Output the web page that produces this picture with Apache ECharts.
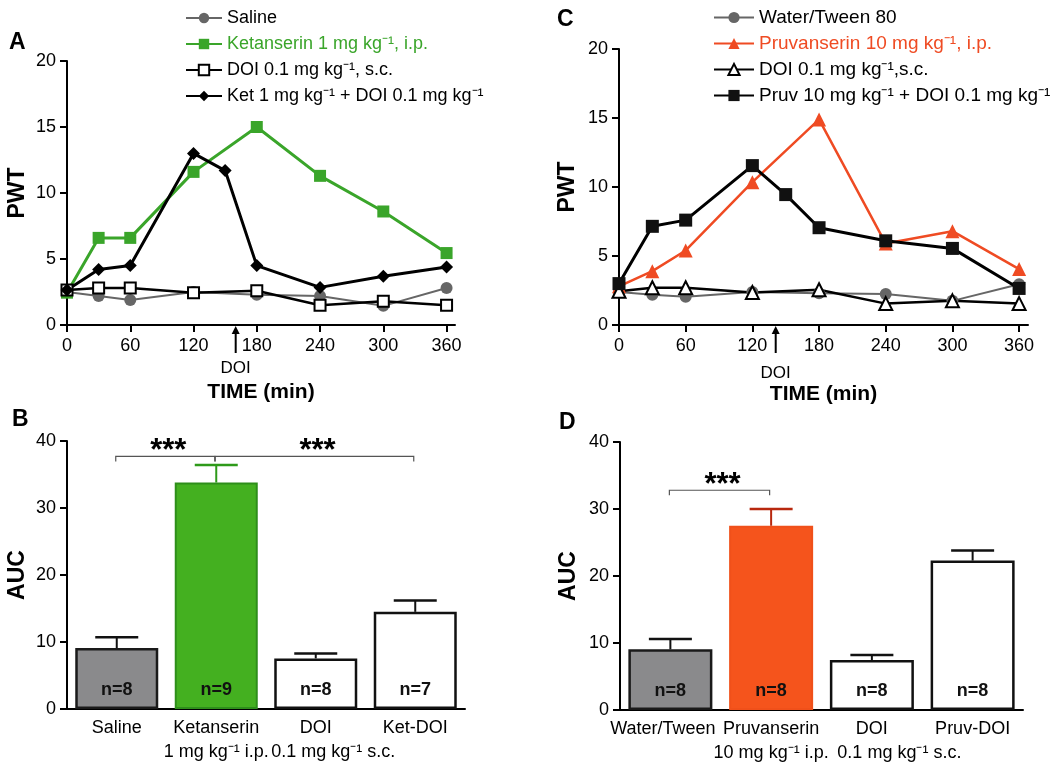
<!DOCTYPE html>
<html><head><meta charset="utf-8">
<script src="https://cdn.jsdelivr.net/npm/echarts@6/dist/echarts.min.js"></script>
<style>html,body{margin:0;padding:0;background:#fff}#c{width:1063px;height:766px}</style>
</head><body><div id="c"></div>
<script>
// ---------- DATA ----------
const tickTimes = [0, 60, 120, 180, 240, 300, 360];
// Panel A
const timesA = [0, 30, 60, 120, 180, 240, 300, 360];
const timesKetDoi = [0, 30, 60, 120, 150, 180, 240, 300, 360];
const saline = [2.5, 2.2, 1.9, 2.5, 2.3, 2.2, 1.45, 2.8];
const ketanserin = [2.45, 6.6, 6.6, 11.6, 15.0, 11.3, 8.6, 5.45];
const doiA = [2.65, 2.8, 2.8, 2.45, 2.6, 1.5, 1.8, 1.5];
const ketDoi = [2.65, 4.2, 4.5, 13.0, 11.7, 4.5, 2.85, 3.7, 4.4];
// Panel C
const timesC = [0, 30, 60, 120, 180, 240, 300, 360];
const timesPruvDoi = [0, 30, 60, 120, 150, 180, 240, 300, 360];
const waterTween = [2.4, 2.2, 2.05, 2.4, 2.3, 2.25, 1.75, 2.95];
const pruvanserin = [2.8, 3.9, 5.4, 10.35, 14.9, 5.9, 6.8, 4.05];
const doiC = [2.45, 2.7, 2.7, 2.35, 2.55, 1.55, 1.75, 1.55];
const pruvDoi = [3.0, 7.15, 7.6, 11.55, 9.45, 7.05, 6.1, 5.55, 2.65];
// Panel B
const catsB = ['Saline', 'Ketanserin\n1 mg kg⁻¹ i.p.', 'DOI\n0.1 mg kg⁻¹ s.c.', 'Ket-DOI'];
const aucB = [9.1, 33.8, 7.55, 14.5];
const aucBUpper = [10.7, 36.4, 8.3, 16.2];
const nB = ['n=8', 'n=9', 'n=8', 'n=7'];
const sigB = [[0, 1, 37.7, '***'], [1, 3, 37.7, '***']];
// Panel D
const catsD = ['Water/Tween', 'Pruvanserin\n10 mg kg⁻¹ i.p.', 'DOI\n0.1 mg kg⁻¹ s.c.', 'Pruv-DOI'];
const aucD = [9.05, 27.5, 7.45, 22.3];
const aucDUpper = [10.6, 30.0, 8.2, 23.8];
const nD = ['n=8', 'n=8', 'n=8', 'n=8'];
const sigD = [[0, 1, 32.8, '***']];
// DOI injection arrows (time, min)
const doiArrowA = 160;
const doiArrowC = 141;

// ---------- STYLE ----------
const FONT = "'Liberation Sans', Arial, Helvetica, sans-serif";
const GRAY = '#666666', GREEN = '#3aa52a', ORANGE = '#ef4b23';
const NBSP = '\u00a0';

function pairs(xs, ys) { return xs.map((x, i) => [x, ys[i]]); }

function timeXAxis(gridIndex, nameGap) {
  return {
    type: 'value', gridIndex, min: 0, max: 368, interval: 60,
    name: 'TIME (min)', nameLocation: 'middle', nameGap,
    nameTextStyle: { fontSize: 21, fontWeight: 'bold', color: '#000', fontFamily: FONT },
    axisLine: { show: true, lineStyle: { color: '#000', width: 2 } },
    axisTick: { show: true, customValues: tickTimes, length: 7, lineStyle: { color: '#000', width: 2 } },
    axisLabel: { customValues: tickTimes, fontSize: 18, color: '#000', margin: 12, fontFamily: FONT },
    splitLine: { show: false }
  };
}
function valYAxis(gridIndex, max, interval, name, nameGap) {
  return {
    type: 'value', gridIndex, min: 0, max, interval,
    name, nameLocation: 'middle', nameGap,
    nameTextStyle: { fontSize: 23, fontWeight: 'bold', color: '#000', fontFamily: FONT },
    axisLine: { show: true, lineStyle: { color: '#000', width: 2 } },
    axisTick: { show: true, length: 7, lineStyle: { color: '#000', width: 2 } },
    axisLabel: { fontSize: 18, color: '#000', margin: 11, fontFamily: FONT },
    splitLine: { show: false }
  };
}
function catXAxis(gridIndex, cats, shift, pad0) {
  return {
    type: 'category', gridIndex, data: cats,
    axisLine: { show: true, lineStyle: { color: '#000', width: 2 } },
    axisTick: { show: false },
    axisLabel: {
      interval: 0, fontSize: 18, lineHeight: 24, color: '#000', margin: 7, fontFamily: FONT,
      formatter: (v, i) => i === 2 ? v.replace('\n', '\n' + NBSP.repeat(shift)) : (i === 0 ? v + NBSP.repeat(pad0) : v)
    },
    splitLine: { show: false }
  };
}
function lineSeries(name, xi, xs, ys, opt) {
  return Object.assign({
    type: 'line', name, xAxisIndex: xi, yAxisIndex: xi, data: pairs(xs, ys),
    clip: false, z: 3
  }, opt);
}
function errRender(colors, cap) {
  return function (params, api) {
    const i = api.value(0), v = api.value(1), u = api.value(2);
    const p0 = api.coord([i, v]), p1 = api.coord([i, u]);
    const c = colors[params.dataIndex];
    return {
      type: 'group', children: [
        { type: 'line', shape: { x1: p0[0], y1: p0[1], x2: p1[0], y2: p1[1] }, style: { stroke: c, lineWidth: 2 } },
        { type: 'line', shape: { x1: p1[0] - cap, y1: p1[1], x2: p1[0] + cap, y2: p1[1] }, style: { stroke: c, lineWidth: 2.5 } }
      ]
    };
  };
}
function sigRender(params, api) {
  const a = api.value(0), b = api.value(1), v = api.value(2);
  const p0 = api.coord([a, v]), p1 = api.coord([b, v]);
  const x0 = p0[0] - 1, x1 = p1[0] - 1.5, y = p0[1];
  return {
    type: 'group', children: [
      { type: 'polyline', shape: { points: [[x0, y + 5], [x0, y], [x1, y], [x1, y + 5]] }, style: { stroke: '#555', lineWidth: 1.2, fill: null } },
      { type: 'text', x: (x0 + x1) / 2 + 3, y: y - 5, style: { text: '***', align: 'center', verticalAlign: 'middle', font: 'bold 31px ' + FONT, fill: '#000' } }
    ]
  };
}
function barData(vals, styles) {
  return vals.map((v, i) => ({ value: v, itemStyle: styles[i] }));
}
const barLabel = (labels) => ({
  show: true, position: 'insideBottom', distance: 10, fontSize: 18, fontWeight: 'bold', color: '#111', fontFamily: FONT,
  formatter: (p) => labels[p.dataIndex]
});

const whiteBar = { color: '#fff', borderColor: '#111', borderWidth: 2.5 };
const grayBar = { color: '#8a8a8c', borderColor: '#1a1a1a', borderWidth: 2.5 };

const option = {
  animation: false,
  backgroundColor: '#fff',
  textStyle: { fontFamily: FONT },
  grid: [
    { left: 67, top: 61, width: 388, height: 264 },
    { left: 619, top: 49, width: 409, height: 276 },
    { left: 67, top: 441, width: 398, height: 268 },
    { left: 620, top: 442, width: 403, height: 268 }
  ],
  legend: [
    {
      orient: 'vertical', left: 185, top: 9, padding: 0, itemWidth: 36, itemHeight: 13, itemGap: 8, selectedMode: false,
      textStyle: { fontSize: 18, color: '#000', fontFamily: FONT },
      data: [
        { name: 'Saline' },
        { name: 'Ketanserin 1 mg kg⁻¹, i.p.', textStyle: { color: GREEN } },
        { name: 'DOI 0.1 mg kg⁻¹, s.c.' },
        { name: 'Ket 1 mg kg⁻¹ + DOI 0.1 mg kg⁻¹' }
      ]
    },
    {
      orient: 'vertical', left: 713, top: 8, padding: 0, itemWidth: 40, itemHeight: 14, itemGap: 7, selectedMode: false,
      textStyle: { fontSize: 19, color: '#000', fontFamily: FONT },
      data: [
        { name: 'Water/Tween 80' },
        { name: 'Pruvanserin 10 mg kg⁻¹, i.p.', textStyle: { color: ORANGE } },
        { name: 'DOI 0.1 mg kg⁻¹,s.c.' },
        { name: 'Pruv 10 mg kg⁻¹ + DOI 0.1 mg kg⁻¹' }
      ]
    }
  ],
  xAxis: [
    timeXAxis(0, 57),
    timeXAxis(1, 59),
    catXAxis(2, catsB, 7, 0),
    catXAxis(3, catsD, 11, 3)
  ],
  yAxis: [
    valYAxis(0, 20, 5, 'PWT', 38),
    valYAxis(1, 20, 5, 'PWT', 40),
    valYAxis(2, 40, 10, 'AUC', 38),
    valYAxis(3, 40, 10, 'AUC', 40)
  ],
  series: [
    lineSeries('Saline', 0, timesA, saline, { symbol: 'circle', symbolSize: 12, lineStyle: { color: GRAY, width: 2 }, itemStyle: { color: GRAY } }),
    lineSeries('Ketanserin 1 mg kg⁻¹, i.p.', 0, timesA, ketanserin, { symbol: 'rect', symbolSize: 12, lineStyle: { color: GREEN, width: 3 }, itemStyle: { color: GREEN } }),
    lineSeries('DOI 0.1 mg kg⁻¹, s.c.', 0, timesA, doiA, { symbol: 'rect', symbolSize: 11, lineStyle: { color: '#000', width: 2.5 }, itemStyle: { color: '#fff', borderColor: '#000', borderWidth: 2 } }),
    lineSeries('Ket 1 mg kg⁻¹ + DOI 0.1 mg kg⁻¹', 0, timesKetDoi, ketDoi, { symbol: 'diamond', symbolSize: 13, lineStyle: { color: '#000', width: 3 }, itemStyle: { color: '#000' } }),

    lineSeries('Water/Tween 80', 1, timesC, waterTween, { symbol: 'circle', symbolSize: 12, lineStyle: { color: GRAY, width: 2 }, itemStyle: { color: GRAY } }),
    lineSeries('Pruvanserin 10 mg kg⁻¹, i.p.', 1, timesC, pruvanserin, { symbol: 'triangle', symbolSize: 14, lineStyle: { color: ORANGE, width: 2.5 }, itemStyle: { color: ORANGE } }),
    lineSeries('DOI 0.1 mg kg⁻¹,s.c.', 1, timesC, doiC, { symbol: 'triangle', symbolSize: 13, lineStyle: { color: '#000', width: 2.5 }, itemStyle: { color: '#fff', borderColor: '#000', borderWidth: 2 } }),
    lineSeries('Pruv 10 mg kg⁻¹ + DOI 0.1 mg kg⁻¹', 1, timesPruvDoi, pruvDoi, { symbol: 'rect', symbolSize: 13, lineStyle: { color: '#000', width: 3 }, itemStyle: { color: '#111' } }),

    {
      type: 'bar', name: 'AUC B', xAxisIndex: 2, yAxisIndex: 2, barWidth: 83,
      data: barData(aucB, [grayBar, { color: '#44b020', borderColor: '#2e8e1a', borderWidth: 2 }, whiteBar, whiteBar]),
      label: barLabel(nB), z: 2
    },
    {
      type: 'custom', name: 'errB', xAxisIndex: 2, yAxisIndex: 2, z: 4,
      data: aucB.map((v, i) => [i, v, aucBUpper[i]]), encode: { x: 0, y: [1, 2] },
      renderItem: errRender(['#111', '#2e9a1a', '#111', '#111'], 21.5)
    },
    {
      type: 'custom', name: 'sigB', xAxisIndex: 2, yAxisIndex: 2, z: 4,
      data: sigB.map(s => [s[0], s[1], s[2]]), encode: { x: [0, 1], y: 2 },
      renderItem: sigRender
    },
    {
      type: 'bar', name: 'AUC D', xAxisIndex: 3, yAxisIndex: 3, barWidth: 84,
      data: barData(aucD, [grayBar, { color: '#f5541c', borderColor: '#f0501a', borderWidth: 2 }, whiteBar, whiteBar]),
      label: barLabel(nD), z: 2
    },
    {
      type: 'custom', name: 'errD', xAxisIndex: 3, yAxisIndex: 3, z: 4,
      data: aucD.map((v, i) => [i, v, aucDUpper[i]]), encode: { x: 0, y: [1, 2] },
      renderItem: errRender(['#111', '#b8280e', '#111', '#111'], 21.5)
    },
    {
      type: 'custom', name: 'sigD', xAxisIndex: 3, yAxisIndex: 3, z: 4,
      data: sigD.map(s => [s[0], s[1], s[2]]), encode: { x: [0, 1], y: 2 },
      renderItem: sigRender
    }
  ]
};

const chart = echarts.init(document.getElementById('c'));
chart.setOption(option);

function arrowGraphic(p) {
  const x = p[0], y = p[1];
  return [
    { type: 'line', shape: { x1: x, y1: y + 28, x2: x, y2: y + 6 }, style: { stroke: '#000', lineWidth: 2 } },
    { type: 'polygon', shape: { points: [[x, y + 1], [x - 4, y + 9], [x + 4, y + 9]] }, style: { fill: '#000' } }
  ];
}
const pA = chart.convertToPixel({ gridIndex: 0 }, [doiArrowA, 0]);
const pC = chart.convertToPixel({ gridIndex: 1 }, [doiArrowC, 0]);
const letter = (t, x, y) => ({ type: 'text', x, y, style: { text: t, font: 'bold 23px ' + FONT, fill: '#000' } });
chart.setOption({
  graphic: [
    letter('A', 9, 31), letter('C', 557, 8), letter('B', 12, 408), letter('D', 559, 411),
    ...arrowGraphic(pA), ...arrowGraphic(pC),
    { type: 'text', x: pA[0], y: pA[1] + 43, style: { text: 'DOI', align: 'center', verticalAlign: 'middle', font: '17px ' + FONT, fill: '#000' } },
    { type: 'text', x: pC[0], y: pC[1] + 48, style: { text: 'DOI', align: 'center', verticalAlign: 'middle', font: '17px ' + FONT, fill: '#000' } }
  ]
});
</script>
</body></html>
